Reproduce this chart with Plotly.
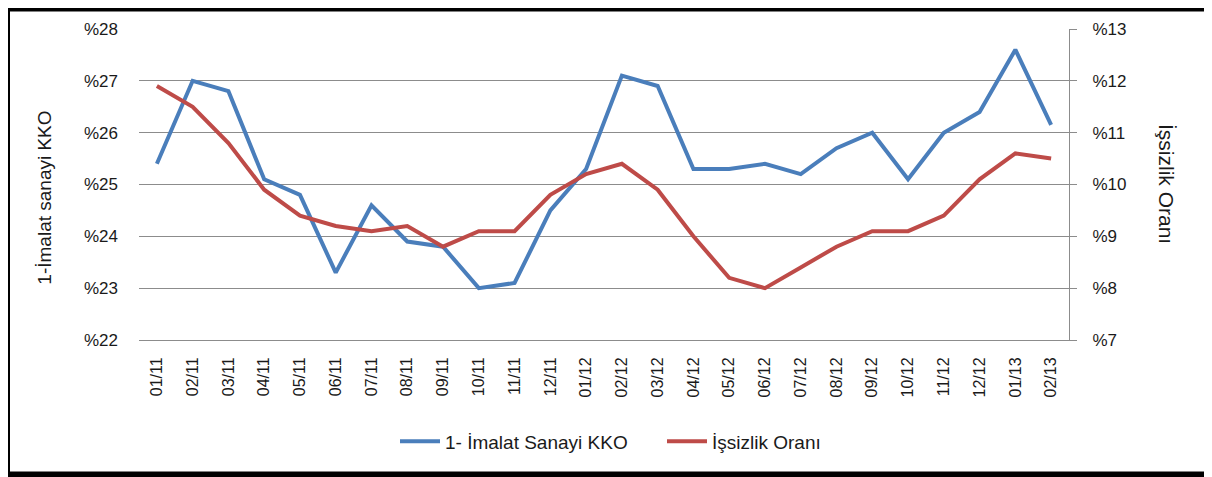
import plotly.graph_objects as go

categories = ["01/11", "02/11", "03/11", "04/11", "05/11", "06/11", "07/11", "08/11",
              "09/11", "10/11", "11/11", "12/11", "01/12", "02/12", "03/12", "04/12",
              "05/12", "06/12", "07/12", "08/12", "09/12", "10/12", "11/12", "12/12",
              "01/13", "02/13"]
kko = [25.4, 27.0, 26.8, 25.1, 24.8, 23.3, 24.6, 23.9, 23.8, 23.0, 23.1, 24.5, 25.3,
       27.1, 26.9, 25.3, 25.3, 25.4, 25.2, 25.7, 26.0, 25.1, 26.0, 26.4, 27.6, 26.15]
issizlik = [11.9, 11.5, 10.8, 9.9, 9.4, 9.2, 9.1, 9.2, 8.8, 9.1, 9.1, 9.8, 10.2,
            10.4, 9.9, 9.0, 8.2, 8.0, 8.4, 8.8, 9.1, 9.1, 9.4, 10.1, 10.6, 10.5]
left_ticks = [22, 23, 24, 25, 26, 27, 28]
right_ticks = [7, 8, 9, 10, 11, 12, 13]
name_kko = "1- İmalat Sanayi KKO"
name_iss = "İşsizlik Oranı"
title_left = "1-İmalat sanayi KKO"
title_right = "İşsizlik Oranı"

W, H = 1212, 477
OFF = 8  # page offset of the figure inside the browser window
L, R, T, B = 139 - OFF, 1069 - OFF, 21 - OFF, 340 - OFF

font = "Liberation Sans"
grid = "#8c8c8c"

fig = go.Figure()
fig.add_trace(go.Scatter(x=categories, y=kko, name=name_kko, mode="lines",
                         line=dict(color="#4A7EBB", width=4)))
fig.add_trace(go.Scatter(x=categories, y=issizlik, name=name_iss, mode="lines",
                         line=dict(color="#BE4B48", width=4), yaxis="y2"))

def px_x(p):
    return (p - OFF - L) / (R - L)

def px_y(p):
    return (B - (p - OFF)) / (B - T)

fig.update_layout(
    width=W, height=H,
    margin=dict(l=L, r=W - R, t=T, b=H - B, pad=0),
    paper_bgcolor="black",
    plot_bgcolor="white",
    font=dict(family=font, size=16, color="#1a1a1a"),
    xaxis=dict(type="category", showgrid=False, showline=True, linecolor=grid,
               linewidth=1, tickangle=-90, ticks="", ticklabelstandoff=10,
               tickfont=dict(size=16), range=[-0.5, len(categories) - 0.5],
               zeroline=False),
    yaxis=dict(range=[22, 28], tickvals=left_ticks,
               ticktext=["%" + str(v) for v in left_ticks],
               showgrid=True, gridcolor=grid, gridwidth=1, showline=False,
               zeroline=False, ticks="", ticklabelstandoff=20,
               tickfont=dict(size=17)),
    yaxis2=dict(range=[7, 13], tickvals=right_ticks,
                ticktext=["%" + str(v) for v in right_ticks],
                overlaying="y", side="right", showgrid=False, showline=True,
                linecolor=grid, linewidth=1, ticks="outside", ticklen=7,
                tickcolor=grid, zeroline=False, ticklabelstandoff=12,
                tickfont=dict(size=17)),
    legend=dict(orientation="h", x=px_x(662), xanchor="center", y=px_y(444),
                yanchor="middle", font=dict(size=19), bgcolor="rgba(0,0,0,0)",
                itemwidth=40, tracegroupgap=0, entrywidth=212),
    shapes=[dict(type="rect", xref="paper", yref="paper", layer="below",
                 x0=px_x(10), x1=px_x(1209), y0=px_y(475), y1=px_y(3),
                 fillcolor="white", line=dict(width=0))],
    annotations=[
        dict(text=title_left, xref="paper", yref="paper", x=px_x(45), y=px_y(194),
             showarrow=False, textangle=-90, font=dict(size=19),
             xanchor="center", yanchor="middle"),
        dict(text=title_right, xref="paper", yref="paper", x=px_x(1167), y=px_y(180),
             showarrow=False, textangle=90, font=dict(size=21),
             xanchor="center", yanchor="middle"),
    ],
)

fig.write_html("out.html")
